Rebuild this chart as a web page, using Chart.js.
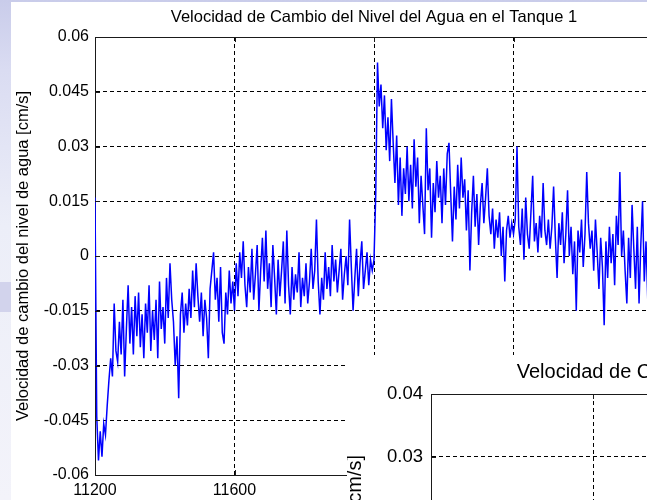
<!DOCTYPE html>
<html>
<head>
<meta charset="utf-8">
<script src="https://cdn.jsdelivr.net/npm/chart.js@4.4.0/dist/chart.umd.min.js"></script>
<style>
  html, body { margin: 0; padding: 0; }
  body {
    width: 647px; height: 500px; overflow: hidden; position: relative;
    background:
      linear-gradient(to bottom, transparent 0, transparent 282px, #d2d3ec 282px, #d2d3ec 312px, transparent 312px),
      linear-gradient(to bottom, #c9ccea 0%, #dadcf2 14%, #eceef8 45%, #f3f3fa 100%);
  }
  #fig1 { position: absolute; left: 11px; top: 2px; width: 636px; height: 498px; background: #fff; overflow: hidden; }
  #fig1 canvas { position: absolute; left: 0; top: 0; }
  #fig2 { position: absolute; left: 347px; top: 355px; width: 300px; height: 145px; background: #fff; overflow: hidden; }
  #fig2 canvas { position: absolute; left: -4px; top: 0; }
</style>
</head>
<body>
<div id="fig1"><canvas id="tank1" width="726" height="498"></canvas></div>
<div id="fig2"><canvas id="tank2" width="840" height="601"></canvas></div>
<script>
// Velocidad de cambio del nivel - tanque 1
const sampleStart = 11200;
const sampleStep = 5;

const xTicks = [11200, 11600, 12000, 12400, 12800];
const yTicks1 = [-0.06, -0.045, -0.03, -0.015, 0, 0.015, 0.03, 0.045, 0.06];
const yTicks2 = [-0.04, -0.03, -0.02, -0.01, 0, 0.01, 0.02, 0.03, 0.04];

// cm/s
const rateTank1 = [
  0.016, -0.044, -0.056, -0.048, -0.055, -0.046, -0.049, -0.041, -0.034, -0.028,
  -0.033, -0.013, -0.026, -0.029, -0.018, -0.027, -0.012, -0.033, -0.020, -0.008,
  -0.024, -0.014, -0.027, -0.011, -0.022, -0.010, -0.025, -0.016, -0.028, -0.013,
  -0.021, -0.008, -0.026, -0.015, -0.023, -0.012, -0.028, -0.007, -0.020, -0.014,
  -0.024, -0.006, -0.017, -0.002, -0.012, -0.018, -0.030, -0.022, -0.039, -0.016,
  -0.010, -0.021, -0.013, -0.019, -0.009, -0.017, -0.004, -0.014, -0.002, -0.011,
  -0.018, -0.010, -0.022, -0.012, -0.017, -0.028, -0.009, -0.004, 0.001, -0.012,
  -0.006, -0.018, -0.003, -0.021, -0.024, -0.010, -0.016, -0.004, -0.013, -0.007,
  -0.015, -0.002, -0.011, 0.001, -0.006, 0.004, -0.008, -0.014, -0.003, -0.010,
  0.002, -0.012, -0.005, 0.003, -0.015, -0.004, 0.005, -0.007, 0.007, -0.009,
  -0.002, -0.014, 0.003, -0.006, -0.016, -0.001, -0.011, -0.004, 0.004, -0.013,
  0.007, -0.008, -0.016, -0.003, -0.012, -0.005, -0.010, 0.001, -0.014, -0.006,
  -0.011, -0.002, -0.013, -0.007, 0.002, -0.009, -0.004, 0.010, -0.007, -0.016,
  -0.006, -0.012, 0.001, -0.009, -0.003, -0.011, 0.003, -0.007, -0.001, -0.010,
  -0.004, 0.002, -0.012, -0.005, 0.000, -0.008, 0.010, -0.003, -0.015, -0.006,
  0.002, -0.011, -0.002, 0.004, -0.009, -0.004, 0.001, -0.008, -0.001, -0.004,
  -0.001, 0.017, 0.053, 0.041, 0.047, 0.035, 0.044, 0.029, 0.038, 0.026,
  0.043, 0.031, 0.020, 0.033, 0.014, 0.027, 0.011, 0.024, 0.017, 0.030,
  0.015, 0.025, 0.013, 0.032, 0.019, 0.027, 0.009, 0.022, 0.014, 0.006,
  0.035, 0.018, 0.024, 0.005, 0.020, 0.012, 0.026, 0.016, 0.022, 0.009,
  0.024, 0.014, 0.028, 0.031, 0.017, 0.004, 0.019, 0.010, 0.025, 0.013,
  0.027, 0.016, 0.021, 0.007, 0.018, -0.004, 0.012, 0.022, 0.008, 0.017,
  0.003, 0.014, 0.020, 0.009, 0.016, 0.024, 0.011, 0.006, 0.013, 0.002,
  0.010, 0.005, 0.012, 0.000, 0.008, -0.007, 0.007, 0.011, 0.005, 0.009,
  0.006, 0.010, 0.030, 0.008, 0.003, 0.013, -0.001, 0.016, 0.006, 0.002,
  0.012, 0.022, 0.004, 0.009, 0.001, 0.011, 0.005, 0.020, 0.007, 0.003,
  0.010, 0.002, 0.008, 0.019, 0.005, -0.006, 0.009, 0.003, 0.012, -0.002,
  0.006, 0.018, 0.000, 0.008, -0.005, 0.004, -0.015, 0.007, 0.001, 0.010,
  -0.003, 0.006, 0.023, 0.009, 0.002, 0.007, -0.004, 0.010, 0.001, -0.009,
  0.005, -0.003, -0.019, 0.004, -0.006, 0.008, -0.002, 0.006, -0.008, 0.011,
  0.003, 0.023, 0.000, 0.007, -0.004, -0.013, 0.005, -0.006, 0.014, 0.002,
  -0.009, 0.008, -0.013, 0.003, 0.015, -0.007, 0.004, -0.012, 0.006, -0.003,
  0.002
];

const FONT = "'Liberation Sans', Arial, Helvetica, sans-serif";

// caja superior y marcas hacia dentro, estilo MATLAB
const matlabBox = {
  id: 'matlabBox',
  afterDraw(chart) {
    const { ctx, chartArea: a, scales } = chart;
    ctx.save();
    ctx.strokeStyle = '#1a1a1a';
    ctx.lineWidth = 1;
    ctx.beginPath();
    ctx.moveTo(a.left, Math.round(a.top) + 0.5);
    ctx.lineTo(a.right, Math.round(a.top) + 0.5);
    scales.x.ticks.forEach(t => {
      const px = Math.round(scales.x.getPixelForValue(t.value)) + 0.5;
      ctx.moveTo(px, a.top); ctx.lineTo(px, a.top + 5);
      ctx.moveTo(px, a.bottom); ctx.lineTo(px, a.bottom - 5);
    });
    scales.y.ticks.forEach(t => {
      const py = Math.round(scales.y.getPixelForValue(t.value)) + 0.5;
      ctx.moveTo(a.left, py); ctx.lineTo(a.left + 5, py);
    });
    ctx.stroke();
    ctx.restore();
  }
};

function axisOptions(tickValues, min, max, fontSize, pad) {
  return {
    type: 'linear',
    min: min,
    max: max,
    afterBuildTicks: s => { s.ticks = tickValues.map(v => ({ value: v })); },
    ticks: {
      color: '#000',
      padding: pad,
      autoSkip: false,
      maxRotation: 0,
      font: { family: FONT, size: fontSize },
      callback: v => String(v)
    },
    grid: { color: '#000', lineWidth: 1, drawTicks: false },
    border: { color: '#1a1a1a', width: 1, dash: [4, 3] }
  };
}

function spacer(width) {
  return {
    position: 'right',
    display: true,
    grid: { display: false },
    ticks: { display: false },
    border: { display: false },
    afterFit: s => { s.width = width; }
  };
}

const points1 = rateTank1.map((v, i) => ({ x: sampleStart + i * sampleStep, y: v }));

const x1 = axisOptions(xTicks, 11200, 12800, 16, 6);
x1.afterFit = s => { s.height = 25; };
const y1 = axisOptions(yTicks1, -0.06, 0.06, 16, 6);
y1.afterFit = s => { s.width = 84; };
y1.title = {
  display: true,
  text: 'Velocidad de cambio del nivel de agua [cm/s]',
  color: '#000',
  font: { family: FONT, size: 16.5 },
  padding: { top: 3, bottom: 0 }
};

new Chart(document.getElementById('tank1'), {
  type: 'line',
  data: {
    datasets: [{
      data: points1,
      borderColor: '#0000ff',
      borderWidth: 1.5,
      pointRadius: 0,
      tension: 0,
      fill: false
    }]
  },
  options: {
    responsive: false,
    animation: false,
    events: [],
    layout: { padding: 0 },
    plugins: {
      legend: { display: false },
      tooltip: { enabled: false },
      title: {
        display: true,
        text: 'Velocidad de Cambio del Nivel del Agua en el Tanque 1',
        color: '#000',
        font: { family: FONT, size: 16.5, weight: 'normal' },
        padding: { top: 6, bottom: 9.2 }
      }
    },
    scales: { x: x1, y: y1, y2: spacer(84) }
  },
  plugins: [matlabBox]
});

// segunda figura (tanque 2), superpuesta abajo a la derecha
const x2 = axisOptions(xTicks, 11200, 12800, 18.5, 8);
x2.afterFit = s => { s.height = 40; };
const y2 = axisOptions(yTicks2, -0.043, 0.04, 18.5, 8);
y2.afterFit = s => { s.width = 88; };
y2.title = {
  display: true,
  text: 'Velocidad de cambio del nivel de agua [cm/s]',
  color: '#000',
  font: { family: FONT, size: 20 },
  padding: { top: 0, bottom: 0 }
};

new Chart(document.getElementById('tank2'), {
  type: 'line',
  data: { datasets: [] },
  options: {
    responsive: false,
    animation: false,
    events: [],
    layout: { padding: 0 },
    plugins: {
      legend: { display: false },
      tooltip: { enabled: false },
      title: {
        display: true,
        text: 'Velocidad de Cambio del Nivel del Agua en el Tanque 2',
        color: '#000',
        font: { family: FONT, size: 20, weight: 'normal' },
        padding: { top: 5, bottom: 10 }
      }
    },
    scales: { x: x2, y: y2, y2: spacer(104) }
  },
  plugins: [matlabBox]
});
</script>
</body>
</html>
